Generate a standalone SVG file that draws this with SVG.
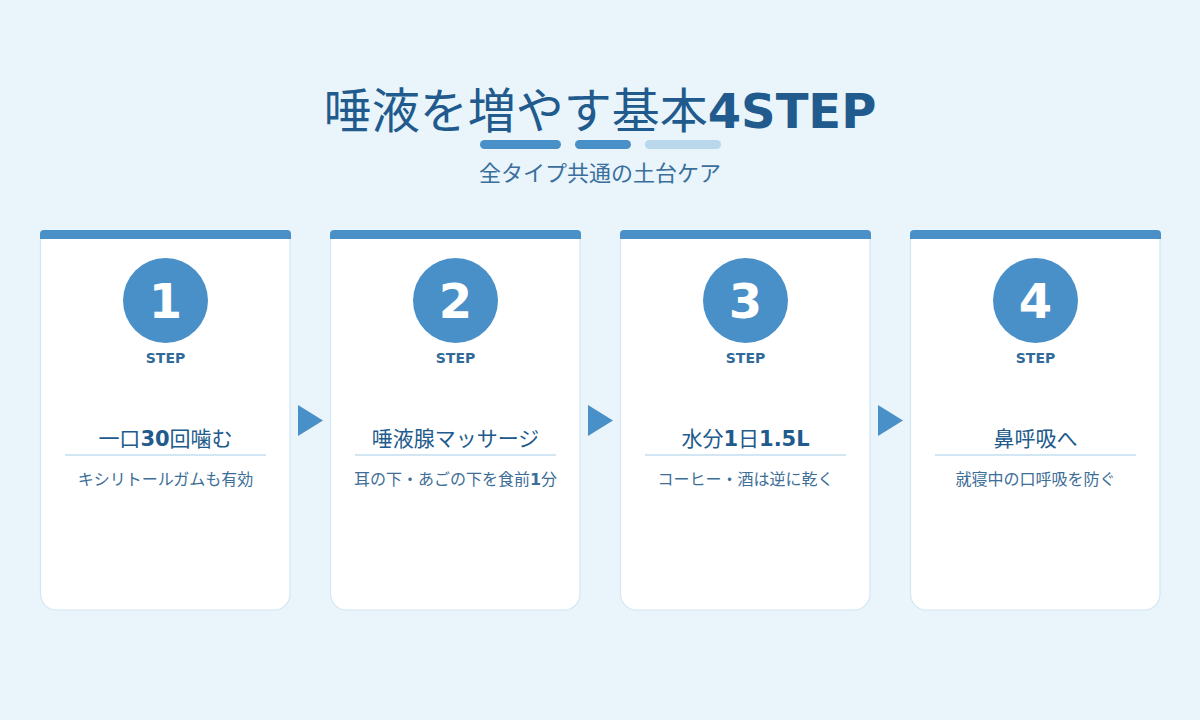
<svg xmlns="http://www.w3.org/2000/svg" width="1200" height="720" viewBox="0 0 1200 720">
<defs>
<style>
.jp{font-family:"Noto Sans CJK JP","DejaVu Sans",sans-serif;font-weight:normal}
.b{font-family:"DejaVu Sans","Noto Sans CJK JP",sans-serif;font-weight:bold}
.title{font-size:48px;fill:#215a8c}
.sub{font-size:22px;fill:#3a6f9c}
.card{fill:#ffffff;stroke:#d3e6f3;stroke-width:1.2}
.bar{fill:#4a90c8}
.circ{fill:#4a90c8}
.num{font-family:"DejaVu Sans",sans-serif;font-weight:bold;font-size:48px;fill:#ffffff}
.step{font-family:"DejaVu Sans",sans-serif;font-weight:bold;font-size:14px;fill:#2f6a9a}
.ct{font-size:21px;fill:#215a8c}
.rule{stroke:#d3e6f3;stroke-width:2}
.desc{font-size:16px;fill:#3d6e98}
.arrow{fill:#4a90c8}
</style>
</defs>
<rect width="1200" height="720" fill="#e9f4fb"/>
<g id="header">
<text x="600" y="128" text-anchor="middle" class="title"><tspan class="jp">唾液を増やす基本</tspan><tspan class="b">4STEP</tspan></text>
<rect x="480" y="140" width="81" height="9" rx="4.5" fill="#4a90c8"/>
<rect x="575" y="140" width="56" height="9" rx="4.5" fill="#4a90c8"/>
<rect x="645" y="140" width="76" height="9" rx="4.5" fill="#b9d8ec"/>
<text x="600" y="181" text-anchor="middle" class="jp sub">全タイプ共通の土台ケア</text>
</g>
<g id="connectors">
<polygon class="arrow" points="298,405 323,420.5 298,436"/>
<polygon class="arrow" points="588,405 613,420.5 588,436"/>
<polygon class="arrow" points="878,405 903,420.5 878,436"/>
</g>
<g id="step1">
<path class="card" d="M40.5,238 V594 a16,16 0 0 0 16,16 H274 a16,16 0 0 0 16,-16 V238 Z"/>
<path class="bar" d="M40,239 V234 a4,4 0 0 1 4,-4 H287 a4,4 0 0 1 4,4 V239 Z"/>
<circle class="circ" cx="165.5" cy="300.5" r="42.5"/>
<text x="165.5" y="318" text-anchor="middle" class="num">1</text>
<text x="165.5" y="363" text-anchor="middle" class="step">STEP</text>
<text x="165.5" y="446" text-anchor="middle" class="ct"><tspan class="jp">一口</tspan><tspan class="b">30</tspan><tspan class="jp">回噛む</tspan></text>
<line class="rule" x1="65" y1="455" x2="266" y2="455"/>
<text x="165.5" y="485" text-anchor="middle" class="jp desc">キシリトールガムも有効</text>
</g>
<g id="step2">
<path class="card" d="M330.5,238 V594 a16,16 0 0 0 16,16 H564 a16,16 0 0 0 16,-16 V238 Z"/>
<path class="bar" d="M330,239 V234 a4,4 0 0 1 4,-4 H577 a4,4 0 0 1 4,4 V239 Z"/>
<circle class="circ" cx="455.5" cy="300.5" r="42.5"/>
<text x="455.5" y="318" text-anchor="middle" class="num">2</text>
<text x="455.5" y="363" text-anchor="middle" class="step">STEP</text>
<text x="455.5" y="446" text-anchor="middle" class="jp ct">唾液腺マッサージ</text>
<line class="rule" x1="355" y1="455" x2="556" y2="455"/>
<text x="455.5" y="485" text-anchor="middle" class="desc"><tspan class="jp">耳の下・あごの下を食前</tspan><tspan class="b">1</tspan><tspan class="jp">分</tspan></text>
</g>
<g id="step3">
<path class="card" d="M620.5,238 V594 a16,16 0 0 0 16,16 H854 a16,16 0 0 0 16,-16 V238 Z"/>
<path class="bar" d="M620,239 V234 a4,4 0 0 1 4,-4 H867 a4,4 0 0 1 4,4 V239 Z"/>
<circle class="circ" cx="745.5" cy="300.5" r="42.5"/>
<text x="745.5" y="318" text-anchor="middle" class="num">3</text>
<text x="745.5" y="363" text-anchor="middle" class="step">STEP</text>
<text x="745.5" y="446" text-anchor="middle" class="ct"><tspan class="jp">水分</tspan><tspan class="b">1</tspan><tspan class="jp">日</tspan><tspan class="b">1.5L</tspan></text>
<line class="rule" x1="645" y1="455" x2="846" y2="455"/>
<text x="745.5" y="485" text-anchor="middle" class="jp desc">コーヒー・酒は逆に乾く</text>
</g>
<g id="step4">
<path class="card" d="M910.5,238 V594 a16,16 0 0 0 16,16 H1144 a16,16 0 0 0 16,-16 V238 Z"/>
<path class="bar" d="M910,239 V234 a4,4 0 0 1 4,-4 H1157 a4,4 0 0 1 4,4 V239 Z"/>
<circle class="circ" cx="1035.5" cy="300.5" r="42.5"/>
<text x="1035.5" y="318" text-anchor="middle" class="num">4</text>
<text x="1035.5" y="363" text-anchor="middle" class="step">STEP</text>
<text x="1035.5" y="446" text-anchor="middle" class="jp ct">鼻呼吸へ</text>
<line class="rule" x1="935" y1="455" x2="1136" y2="455"/>
<text x="1035.5" y="485" text-anchor="middle" class="jp desc">就寝中の口呼吸を防ぐ</text>
</g>
</svg>
